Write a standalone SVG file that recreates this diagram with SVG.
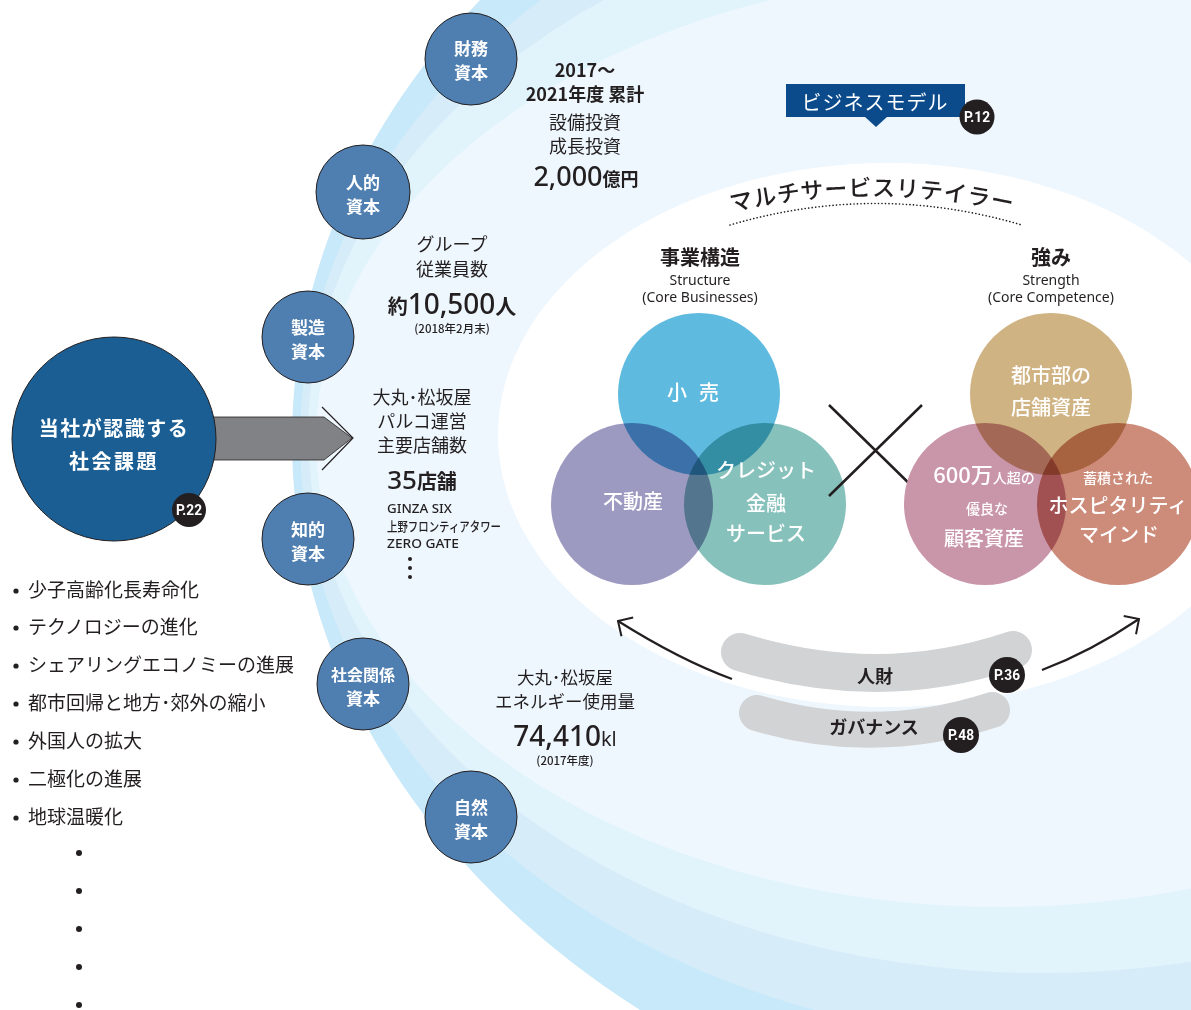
<svg xmlns="http://www.w3.org/2000/svg" width="1191" height="1010" viewBox="0 0 1191 1010">
<defs>
<style>
.jp{font-family:"Noto Sans CJK JP","Noto Sans",sans-serif;fill:#231f20}
.en{font-family:"Noto Sans","Noto Sans CJK JP",sans-serif;fill:#231f20}
.mid{text-anchor:middle}
.b{font-weight:700}
.cap circle{fill:#4f7fb0;stroke:#231f20;stroke-width:1}
.cap text{fill:#fff;font-size:17px;font-weight:700;text-anchor:middle;font-family:"Noto Sans CJK JP",sans-serif}
.badge circle{fill:#231f20}
.badge text{fill:#fff;font-family:Roboto,"Liberation Sans",sans-serif;font-weight:700;font-size:15px;text-anchor:middle}
.vc{mix-blend-mode:multiply}
.vt{fill:#fff;font-size:20px;text-anchor:middle;font-weight:500;font-family:"Noto Sans CJK JP","Noto Sans",sans-serif}
.li{font-size:19px}
.dot{fill:#231f20}
.band{fill:none;stroke:#d1d3d4;stroke-linecap:round}
.ln{fill:none;stroke:#231f20}
</style>
<marker id="chev" viewBox="0 0 13 24" refX="12" refY="12" markerWidth="13" markerHeight="24" markerUnits="userSpaceOnUse" orient="auto">
<path d="M1,1 L12,12 L1,23" fill="none" stroke="#231f20" stroke-width="2"/>
</marker>
</defs>
<rect width="1191" height="1010" fill="#fff"/>
<g id="background">
<ellipse cx="1243" cy="440" rx="951" ry="737" fill="#c7e9f9"/>
<ellipse cx="1059" cy="440" rx="759" ry="602" fill="#d6ecf9"/>
<ellipse cx="1043" cy="433" rx="735" ry="540" fill="#e1f3fb"/>
<ellipse cx="1000" cy="440" rx="684" ry="467" fill="#eef7fe"/>
<ellipse cx="888" cy="435" rx="390" ry="272" fill="#fff"/>
</g>
<g id="connectors">
<polygon points="212,417 324,417 352,438 324,460 212,460" fill="#808285" stroke="#231f20" stroke-width="0.8"/>
<polyline points="322,407 353,438 322,470" class="ln" stroke-width="1.2"/>
<path d="M732,679 Q680,660 618,621" class="ln" stroke-width="2.2" marker-end="url(#chev)"/>
<path d="M1042,670 Q1090,652 1139,619" class="ln" stroke-width="2.2" marker-end="url(#chev)"/>
</g>
<g id="social-issues">
<circle cx="114" cy="439" r="102" fill="#1b5e93" stroke="#231f20" stroke-width="1"/>
<text x="114" y="436" class="jp mid b" font-size="20" letter-spacing="1.5" style="fill:#fff">当社が認識する</text>
<text x="114" y="469" class="jp mid b" font-size="20" letter-spacing="2.5" style="fill:#fff">社会課題</text>
<g class="badge"><circle cx="189" cy="510" r="17"/><text x="189" y="515" textLength="26" lengthAdjust="spacingAndGlyphs">P.22</text></g>
</g>
<g id="issue-list" class="jp li">
<circle class="dot" cx="16" cy="591" r="2.6"/><text x="28" y="597">少子高齢化長寿命化</text>
<circle class="dot" cx="16" cy="628" r="2.6"/><text x="28" y="634">テクノロジーの進化</text>
<circle class="dot" cx="16" cy="666" r="2.6"/><text x="28" y="672">シェアリングエコノミーの進展</text>
<circle class="dot" cx="16" cy="704" r="2.6"/><text x="28" y="710">都市回帰と地方･郊外の縮小</text>
<circle class="dot" cx="16" cy="742" r="2.6"/><text x="28" y="748">外国人の拡大</text>
<circle class="dot" cx="16" cy="780" r="2.6"/><text x="28" y="786">二極化の進展</text>
<circle class="dot" cx="16" cy="818" r="2.6"/><text x="28" y="824">地球温暖化</text>
<circle class="dot" cx="79" cy="853" r="3"/>
<circle class="dot" cx="79" cy="891" r="3"/>
<circle class="dot" cx="79" cy="929" r="3"/>
<circle class="dot" cx="79" cy="967" r="3"/>
<circle class="dot" cx="79" cy="1005" r="3"/>
</g>
<g id="cap-financial" class="cap"><circle cx="471" cy="59" r="46"/><text x="471" y="55">財務</text><text x="471" y="79">資本</text></g>
<g id="cap-human" class="cap"><circle cx="363" cy="192" r="47"/><text x="363" y="189">人的</text><text x="363" y="213">資本</text></g>
<g id="cap-manufactured" class="cap"><circle cx="308" cy="337" r="46"/><text x="308" y="334">製造</text><text x="308" y="358">資本</text></g>
<g id="cap-intellectual" class="cap"><circle cx="308" cy="539" r="46"/><text x="308" y="536">知的</text><text x="308" y="560">資本</text></g>
<g id="cap-social" class="cap"><circle cx="363" cy="684" r="46"/><text x="363" y="681" style="font-size:16px">社会関係</text><text x="363" y="705">資本</text></g>
<g id="cap-natural" class="cap"><circle cx="471" cy="817" r="46"/><text x="471" y="814">自然</text><text x="471" y="838">資本</text></g>
<g id="stat-investment" class="jp mid">
<text x="585" y="77" class="b" font-size="18">2017～</text>
<text x="585" y="101" class="b" font-size="18">2021年度 累計</text>
<text x="585" y="129" font-size="18">設備投資</text>
<text x="585" y="153" font-size="18">成長投資</text>
<text x="586" y="186"><tspan class="en" font-size="27" font-weight="500">2,000</tspan><tspan font-size="18" font-weight="700">億円</tspan></text>
</g>
<g id="stat-employees" class="jp mid">
<text x="452" y="251" font-size="18">グループ</text>
<text x="452" y="276" font-size="18">従業員数</text>
<text x="452" y="314"><tspan font-size="20" font-weight="700">約</tspan><tspan class="en" font-size="28" font-weight="500">10,500</tspan><tspan font-size="21" font-weight="700">人</tspan></text>
<text x="452" y="333" font-size="11.5" font-weight="500">(2018年2月末)</text>
</g>
<g id="stat-stores" class="jp">
<text x="422" y="404" class="mid" font-size="18">大丸･松坂屋</text>
<text x="422" y="428" class="mid" font-size="18">パルコ運営</text>
<text x="422" y="452" class="mid" font-size="18">主要店舗数</text>
<text x="422" y="489" class="mid"><tspan class="en" font-size="26" font-weight="500">35</tspan><tspan font-size="20" font-weight="700">店舗</tspan></text>
<text x="387" y="513" class="en" font-size="13" font-weight="500" textLength="65" lengthAdjust="spacingAndGlyphs">GINZA SIX</text>
<text x="387" y="531" font-size="13" font-weight="500" textLength="114" lengthAdjust="spacingAndGlyphs">上野フロンティアタワー</text>
<text x="387" y="548" class="en" font-size="13" font-weight="500" textLength="72" lengthAdjust="spacingAndGlyphs">ZERO GATE</text>
<circle class="dot" cx="410" cy="559" r="2"/>
<circle class="dot" cx="410" cy="568" r="2"/>
<circle class="dot" cx="410" cy="577" r="2"/>
</g>
<g id="stat-energy" class="jp mid">
<text x="565" y="684" font-size="17.5">大丸･松坂屋</text>
<text x="565" y="708" font-size="17.5">エネルギー使用量</text>
<text x="565" y="746"><tspan class="en" font-size="28" font-weight="500">74,410</tspan><tspan class="en" font-size="20">kl</tspan></text>
<text x="565" y="765" font-size="11.5" font-weight="500">(2017年度)</text>
</g>
<g id="business-model-label">
<rect x="786" y="84" width="179" height="33" fill="#0b4b8c"/>
<polygon points="864,116 876,127 888,116" fill="#0b4b8c"/>
<text x="875" y="110" class="jp mid" font-size="20" letter-spacing="1" style="fill:#fff">ビジネスモデル</text>
<g class="badge"><circle cx="977" cy="117" r="17.5"/><text x="977" y="122" textLength="26" lengthAdjust="spacingAndGlyphs">P.12</text></g>
</g>
<g id="multi-service">
<path id="arcText" d="M722,214 Q872,178 1022,214" fill="none"/>
<text class="jp" font-size="23" font-weight="500" letter-spacing="0.6"><textPath href="#arcText" startOffset="50%" text-anchor="middle">マルチサービスリテイラー</textPath></text>
<path d="M730,225 Q876,182 1022,225" fill="none" stroke="#231f20" stroke-width="1.6" stroke-dasharray="0.1 3.4" stroke-linecap="round"/>
</g>
<g id="structure-head" class="mid">
<text x="700" y="265" class="jp b" font-size="20">事業構造</text>
<text x="700" y="285" class="en" font-size="14">Structure</text>
<text x="700" y="302" class="en" font-size="14">(Core Businesses)</text>
</g>
<g id="strength-head" class="mid">
<text x="1051" y="265" class="jp b" font-size="20">強み</text>
<text x="1051" y="285" class="en" font-size="14">Strength</text>
<text x="1051" y="302" class="en" font-size="14">(Core Competence)</text>
</g>
<g id="venn-structure">
<g style="isolation:isolate">
<circle class="vc" cx="699" cy="394" r="81" fill="#5fbadf"/>
<circle class="vc" cx="632" cy="504" r="81" fill="#9d9ac1"/>
<circle class="vc" cx="765" cy="504" r="81" fill="#87c1bb"/>
</g>
<text class="vt" x="699" y="400" letter-spacing="12">小売</text>
<text class="vt" x="633" y="509">不動産</text>
<text class="vt" x="766" y="478">クレジット</text>
<text class="vt" x="766" y="511">金融</text>
<text class="vt" x="766" y="541">サービス</text>
</g>
<g id="cross">
<path d="M829,405 L922,496 M829,496 L922,405" class="ln" stroke-width="2.5"/>
</g>
<g id="venn-strength">
<g style="isolation:isolate">
<circle class="vc" cx="1051" cy="394" r="81" fill="#d0b383"/>
<circle class="vc" cx="985" cy="504" r="81" fill="#c995a8"/>
<circle class="vc" cx="1118" cy="504" r="81" fill="#cd8b7a"/>
</g>
<text class="vt" x="1051" y="383">都市部の</text>
<text class="vt" x="1051" y="415">店舗資産</text>
<text class="vt" x="984" y="483"><tspan font-size="22">600万</tspan><tspan font-size="14">人超の</tspan></text>
<text class="vt" x="987" y="514" style="font-size:14px">優良な</text>
<text class="vt" x="984" y="546">顧客資産</text>
<text class="vt" x="1118" y="483" style="font-size:14px">蓄積された</text>
<text class="vt" x="1118" y="513">ホスピタリティ</text>
<text class="vt" x="1119" y="542">マインド</text>
</g>
<g id="band-people">
<path d="M740,652 Q880,695 1013,650" class="band" stroke-width="38"/>
<text x="875" y="683" class="jp mid b" font-size="18">人財</text>
<g class="badge"><circle cx="1007" cy="675" r="18"/><text x="1007" y="680" textLength="26" lengthAdjust="spacingAndGlyphs">P.36</text></g>
</g>
<g id="band-governance">
<path d="M757,713 Q875,748 992,710" class="band" stroke-width="36"/>
<text x="874" y="734" class="jp mid b" font-size="18">ガバナンス</text>
<g class="badge"><circle cx="961" cy="735" r="18"/><text x="961" y="740" textLength="26" lengthAdjust="spacingAndGlyphs">P.48</text></g>
</g>
</svg>
